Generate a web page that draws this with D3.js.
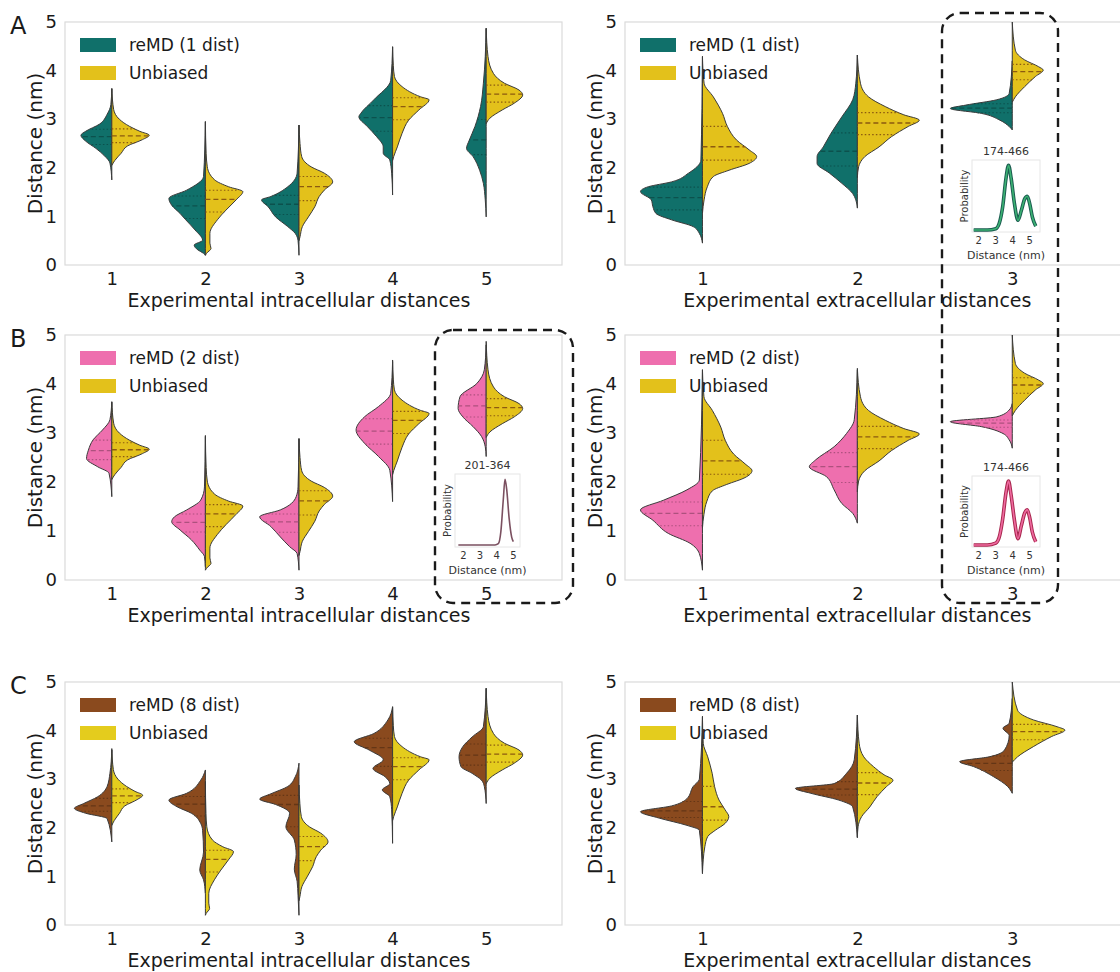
<!DOCTYPE html>
<html>
<head>
<meta charset="utf-8">
<script src="https://cdn.jsdelivr.net/npm/d3@7"></script>
<style>
  body { margin: 0; background: #fff; }
  svg { font-family: "DejaVu Sans", sans-serif; }
</style>
</head>
<body>
<svg id="fig" width="1120" height="972"></svg>
<script>
// ---- data ----
var intraCats = ["1", "2", "3", "4", "5"];
var extraCats = ["1", "2", "3"];
var distTicks = [0, 1, 2, 3, 4, 5];
var insetTicks = [2, 3, 4, 5];

// unbiased density shapes, [distance nm, relative density]
var unbIntra = [
  [[3.63,0],[3.2,0.05],[3.0,0.2],[2.85,0.48],[2.75,0.75],[2.67,1],[2.58,0.82],[2.45,0.42],[2.3,0.25],[2.15,0.08],[2.05,0]],
  [[2.95,0],[2.3,0.02],[2.02,0.05],[1.75,0.25],[1.61,0.62],[1.51,1],[1.34,0.82],[1.13,0.55],[0.93,0.32],[0.65,0.12],[0.45,0.12],[0.34,0.15],[0.24,0.03],[0.2,0]],
  [[2.88,0],[2.5,0.03],[2.23,0.08],[2.02,0.36],[1.89,0.75],[1.71,1],[1.54,0.75],[1.41,0.6],[1.2,0.47],[0.99,0.28],[0.79,0.1],[0.58,0.03],[0.5,0]],
  [[4.49,0],[4.1,0.02],[3.88,0.05],[3.67,0.26],[3.46,0.77],[3.4,1],[3.19,0.72],[2.98,0.44],[2.71,0.26],[2.43,0.13],[2.23,0.03],[2.15,0]],
  [[4.87,0],[4.29,0.05],[3.94,0.2],[3.74,0.5],[3.6,0.9],[3.5,1],[3.33,0.77],[3.19,0.44],[3.02,0.1],[2.91,0]]
];
var unbExtra = [
  [[4.29,0],[3.74,0.03],[3.46,0.2],[3.12,0.37],[2.85,0.46],[2.57,0.63],[2.37,0.86],[2.23,1],[2.09,0.86],[1.95,0.49],[1.82,0.2],[1.61,0.09],[1.34,0.03],[1.06,0]],
  [[4.32,0],[3.74,0.05],[3.46,0.18],[3.26,0.45],[3.09,0.75],[2.98,1],[2.85,0.82],[2.64,0.55],[2.43,0.35],[2.23,0.12],[2.02,0.02],[1.8,0]],
  [[5.0,0],[4.42,0.1],[4.22,0.4],[4.08,0.85],[4.01,1],[3.88,0.75],[3.67,0.4],[3.46,0.1],[3.35,0]]
];
// peak half width of the unbiased halves (category units), rows A, B, C
var unbWidthIntra = [[0.40,0.40,0.36,0.39,0.39],[0.40,0.40,0.36,0.39,0.39],[0.33,0.30,0.31,0.39,0.39]];
var unbWidthExtra = [[0.35,0.40,0.20],[0.32,0.40,0.20],[0.17,0.23,0.34]];

// reMD halves, [distance nm, half width in category units]
var remd1Intra = [
  [[3.63,0],[3.3,0.01],[3.1,0.05],[2.9,0.13],[2.75,0.28],[2.67,0.33],[2.55,0.28],[2.4,0.17],[2.25,0.08],[2.1,0.02],[1.75,0]],
  [[2.95,0],[1.82,0.02],[1.54,0.2],[1.37,0.39],[1.23,0.36],[1.06,0.27],[0.93,0.21],[0.72,0.11],[0.51,0.03],[0.41,0.12],[0.31,0.08],[0.24,0.02],[0.2,0]],
  [[2.88,0],[1.89,0.02],[1.61,0.12],[1.41,0.3],[1.34,0.40],[1.2,0.33],[0.99,0.25],[0.79,0.12],[0.65,0.04],[0.5,0.01],[0.2,0]],
  [[4.49,0],[3.8,0.02],[3.4,0.2],[3.12,0.34],[3.05,0.36],[2.85,0.27],[2.64,0.17],[2.43,0.1],[2.3,0.1],[2.16,0.03],[1.89,0.01],[1.44,0]],
  [[4.87,0],[4.29,0.01],[3.74,0.03],[3.26,0.06],[2.85,0.12],[2.57,0.18],[2.4,0.21],[2.23,0.14],[1.95,0.07],[1.68,0.03],[1.34,0.01],[0.99,0]]
];
var remd1Extra = [
  [[4.29,0],[2.16,0.01],[1.89,0.09],[1.71,0.2],[1.61,0.35],[1.51,0.40],[1.34,0.33],[1.2,0.32],[1.06,0.3],[0.93,0.2],[0.79,0.06],[0.65,0.02],[0.45,0]],
  [[4.32,0],[3.74,0.01],[3.4,0.03],[3.05,0.1],[2.71,0.17],[2.43,0.22],[2.23,0.26],[2.09,0.26],[1.89,0.18],[1.68,0.1],[1.47,0.03],[1.34,0.01],[1.17,0]],
  [[4.2,0],[3.53,0.02],[3.4,0.1],[3.29,0.3],[3.22,0.40],[3.12,0.2],[2.98,0.08],[2.85,0.02],[2.78,0]]
];
var remd2Intra = [
  [[3.64,0],[3.27,0.02],[3.06,0.1],[2.86,0.2],[2.65,0.25],[2.48,0.27],[2.31,0.15],[2.18,0.03],[1.7,0]],
  [[2.93,0],[1.9,0.01],[1.63,0.05],[1.43,0.2],[1.29,0.33],[1.19,0.36],[1.02,0.27],[0.82,0.15],[0.61,0.06],[0.48,0.01],[0.27,0]],
  [[2.89,0],[1.9,0.01],[1.7,0.03],[1.43,0.2],[1.29,0.42],[1.09,0.3],[0.88,0.2],[0.68,0.1],[0.54,0.02],[0.2,0]],
  [[4.46,0],[3.81,0.02],[3.54,0.15],[3.33,0.3],[3.06,0.39],[2.79,0.3],[2.52,0.15],[2.24,0.03],[1.6,0]],
  [[4.8,0],[4.29,0.02],[4.01,0.1],[3.74,0.28],[3.5,0.3],[3.33,0.25],[3.13,0.14],[2.93,0.05],[2.72,0.01],[2.52,0]]
];
var remd2Extra = [
  [[4.29,0],[2.04,0.02],[1.84,0.1],[1.63,0.25],[1.43,0.40],[1.22,0.32],[0.95,0.22],[0.75,0.08],[0.54,0.02],[0.2,0]],
  [[4.29,0],[3.27,0.02],[2.99,0.07],[2.72,0.15],[2.45,0.27],[2.31,0.31],[2.11,0.2],[1.84,0.15],[1.56,0.1],[1.36,0.03],[1.16,0]],
  [[3.6,0],[3.47,0.02],[3.33,0.1],[3.23,0.40],[3.13,0.2],[2.99,0.06],[2.86,0.02],[2.69,0]]
];
var remd8Intra = [
  [[3.6,0],[3.12,0.02],[2.85,0.05],[2.64,0.15],[2.5,0.3],[2.4,0.40],[2.3,0.28],[2.19,0.05],[1.71,0]],
  [[3.19,0],[2.98,0.05],[2.71,0.2],[2.57,0.39],[2.43,0.3],[2.3,0.15],[2.09,0.05],[1.95,0.03],[1.5,0.02],[1.13,0.06],[0.93,0.02],[0.65,0]],
  [[3.33,0],[3.05,0.04],[2.85,0.12],[2.7,0.3],[2.59,0.42],[2.48,0.25],[2.3,0.1],[2.02,0.14],[1.75,0.05],[1.45,0.03],[1.15,0.05],[0.9,0.02],[0.6,0.01],[0.2,0]],
  [[4.49,0],[4.22,0.05],[3.94,0.2],[3.77,0.41],[3.6,0.25],[3.4,0.1],[3.22,0.21],[3.05,0.08],[2.91,0.03],[2.78,0.11],[2.64,0.03],[2.37,0.01],[1.68,0]],
  [[4.87,0],[4.08,0.03],[3.87,0.15],[3.67,0.25],[3.46,0.29],[3.26,0.27],[3.12,0.15],[2.98,0.05],[2.85,0.02],[2.5,0]]
];
var remd8Extra = [
  [[4.29,0],[3.0,0.02],[2.85,0.06],[2.6,0.1],[2.45,0.2],[2.33,0.40],[2.2,0.28],[2.05,0.1],[1.95,0.02],[1.06,0]],
  [[4.32,0],[3.4,0.02],[3.12,0.07],[2.91,0.15],[2.81,0.40],[2.71,0.3],[2.57,0.12],[2.43,0.03],[1.8,0]],
  [[4.66,0],[4.15,0.02],[4.05,0.06],[3.9,0.02],[3.6,0.05],[3.46,0.15],[3.36,0.34],[3.26,0.25],[3.05,0.12],[2.85,0.03],[2.71,0]]
];

// inset distance distributions
var inset174Dist = [1.7, 2.0, 2.5, 3.0, 3.2, 3.4, 3.6, 3.75, 3.9, 4.1, 4.3, 4.5, 4.7, 4.85, 5.0, 5.15, 5.35];
var inset174ProbA = [0, 0, 0, 0.02, 0.1, 0.35, 0.8, 1.0, 0.8, 0.4, 0.15, 0.3, 0.48, 0.52, 0.4, 0.2, 0.06];
var inset174ProbB = [0, 0, 0, 0.03, 0.12, 0.4, 0.82, 1.0, 0.78, 0.38, 0.1, 0.3, 0.5, 0.55, 0.42, 0.2, 0.05];
var inset201Dist = [1.7, 2.0, 3.0, 3.9, 4.1, 4.25, 4.4, 4.5, 4.6, 4.75, 4.9, 5.0];
var inset201Prob = [0, 0, 0, 0, 0.02, 0.2, 0.7, 1.0, 0.85, 0.4, 0.12, 0.05];

// ---- layout ----
var svg = d3.select("#fig");
var textCol = "#1a1a1a";
var spineCol = "#dadada";
var yellowAB = "#e3c11b", yellowC = "#e4cc1d";

var rows = [
  {label: "A", top: 22, bottom: 265, name: "reMD (1 dist)", color: "#10706a", yellow: yellowAB, intra: remd1Intra, extra: remd1Extra},
  {label: "B", top: 335, bottom: 580, name: "reMD (2 dist)", color: "#ee6fae", yellow: yellowAB, intra: remd2Intra, extra: remd2Extra},
  {label: "C", top: 682, bottom: 925, name: "reMD (8 dist)", color: "#8a4a1e", yellow: yellowC, intra: remd8Intra, extra: remd8Extra}
];
var cols = [
  {x0: 65, x1: 562, dom: [-0.5, 4.81], cats: intraCats, title: "Experimental intracellular distances", key: "intra", unb: unbIntra, unbW: unbWidthIntra},
  {x0: 625, x1: 1130, dom: [-0.5, 2.76], cats: extraCats, title: "Experimental extracellular distances", key: "extra", unb: unbExtra, unbW: unbWidthExtra}
];

function interpW(pts, v) {
  // pts sorted ascending by distance
  for (var i = 1; i < pts.length; i++) {
    if (v <= pts[i][0]) {
      var a = pts[i - 1], b = pts[i];
      var t = (v - a[0]) / (b[0] - a[0]);
      return a[1] + t * (b[1] - a[1]);
    }
  }
  return 0;
}

function quartiles(pts) {
  var lo = pts[0][0], hi = pts[pts.length - 1][0];
  var n = 600, step = (hi - lo) / n, cum = [0], tot = 0;
  for (var i = 1; i <= n; i++) {
    tot += interpW(pts, lo + (i - 0.5) * step) * step;
    cum.push(tot);
  }
  return [0.25, 0.5, 0.75].map(function(q) {
    var target = q * tot, j = d3.bisectLeft(cum, target);
    return lo + j * step;
  });
}

function drawHalf(g, xs, ys, ci, shape, scale, side, fill, innerCol) {
  var xc = xs(ci), unit = xs(1) - xs(0);
  var pts = shape.slice().sort(function(a, b) { return b[0] - a[0]; });
  var area = d3.area()
    .curve(d3.curveMonotoneY)
    .y(function(d) { return ys(d[0]); })
    .x0(xc)
    .x1(function(d) { return xc + side * d[1] * scale * unit; });
  g.append("path")
    .attr("d", area(pts))
    .attr("fill", fill)
    .attr("stroke", "#3a3a3a")
    .attr("stroke-width", 1)
    .attr("stroke-linejoin", "round");

  var asc = shape.slice().sort(function(a, b) { return a[0] - b[0]; });
  quartiles(asc).forEach(function(q, k) {
    var w = interpW(asc, q) * scale * unit;
    g.append("line")
      .attr("x1", xc).attr("x2", xc + side * w)
      .attr("y1", ys(q)).attr("y2", ys(q))
      .attr("stroke", innerCol)
      .attr("stroke-width", k == 1 ? 1.3 : 1.1)
      .attr("stroke-dasharray", k == 1 ? "5,3" : "1.5,2.2");
  });
}

rows.forEach(function(row, ri) {
  cols.forEach(function(col, cj) {
    var g = svg.append("g");
    var xs = d3.scaleLinear().domain(col.dom).range([col.x0, col.x1]);
    var ys = d3.scaleLinear().domain([0, 5]).range([row.bottom, row.top]);

    // frame
    g.append("rect")
      .attr("x", col.x0).attr("y", row.top)
      .attr("width", col.x1 - col.x0).attr("height", row.bottom - row.top)
      .attr("fill", "none").attr("stroke", spineCol).attr("stroke-width", 1.2);

    // axes
    var yAxis = d3.axisLeft(ys).tickValues(distTicks).tickFormat(d3.format("d")).tickSize(0).tickPadding(8);
    g.append("g").attr("transform", "translate(" + col.x0 + ",0)").call(yAxis)
      .call(function(a) { a.select(".domain").remove(); })
      .selectAll("text").attr("font-size", 18).attr("fill", textCol).attr("font-family", "DejaVu Sans");
    var xAxis = d3.axisBottom(xs).tickValues(d3.range(col.cats.length))
      .tickFormat(function(i) { return col.cats[i]; }).tickSize(0).tickPadding(7);
    g.append("g").attr("transform", "translate(0," + row.bottom + ")").call(xAxis)
      .call(function(a) { a.select(".domain").remove(); })
      .selectAll("text").attr("font-size", 18).attr("fill", textCol).attr("font-family", "DejaVu Sans");

    g.append("text")
      .attr("x", (xs(0) + xs(col.cats.length - 1)) / 2).attr("y", row.bottom + 42)
      .attr("text-anchor", "middle").attr("font-size", 19).attr("fill", textCol)
      .text(col.title);
    g.append("text")
      .attr("transform", "translate(" + (col.x0 - 23) + "," + ((row.top + row.bottom) / 2) + ") rotate(-90)")
      .attr("text-anchor", "middle").attr("font-size", 20).attr("fill", textCol)
      .text("Distance (nm)");

    // violins
    var remd = row[col.key];
    var innerRemd = d3.color(row.color).darker(0.9).formatHex();
    col.cats.forEach(function(c, i) {
      drawHalf(g, xs, ys, i, remd[i], 1, -1, row.color, innerRemd);
      drawHalf(g, xs, ys, i, col.unb[i], col.unbW[ri][i], 1, row.yellow, "#8c5a10");
    });

    // legend
    var lg = g.append("g").attr("transform", "translate(" + (col.x0 + 15) + "," + (row.top + 16) + ")");
    [[row.name, row.color], ["Unbiased", row.yellow]].forEach(function(e, k) {
      lg.append("rect").attr("x", 0).attr("y", k * 28).attr("width", 36).attr("height", 14)
        .attr("fill", e[1]);
      lg.append("text").attr("x", 49).attr("y", k * 28 + 13)
        .attr("font-size", 17).attr("fill", textCol).text(e[0]);
    });

    if (cj == 0) {
      svg.append("text").attr("x", 10).attr("y", row.top + 12)
        .attr("font-size", 24).attr("fill", textCol).text(row.label);
    }
  });
});

// ---- insets ----
function drawInset(o) {
  var g = svg.append("g");
  var xs = d3.scaleLinear().domain(o.domX).range([o.x0, o.x1]);
  var ys = d3.scaleLinear().domain([0, 1.08]).range([o.y1 - 2, o.y0]);
  g.append("rect").attr("x", o.x0).attr("y", o.y0)
    .attr("width", o.x1 - o.x0).attr("height", o.y1 - o.y0)
    .attr("fill", "#fff").attr("fill-opacity", 0.6)
    .attr("stroke", "#e6e6e6").attr("stroke-width", 1);
  var line = d3.line().curve(d3.curveMonotoneX)
    .x(function(d) { return xs(d[0]); }).y(function(d) { return ys(d[1]); });
  var pts = o.dist.map(function(d, i) { return [d, o.prob[i]]; });
  o.strokes.forEach(function(s) {
    g.append("path").attr("d", line(pts)).attr("fill", "none")
      .attr("stroke", s[0]).attr("stroke-width", s[1]).attr("stroke-linejoin", "round");
  });
  g.selectAll(".it").data(insetTicks).enter().append("text")
    .attr("x", function(d) { return xs(d); }).attr("y", o.y1 + 12)
    .attr("text-anchor", "middle").attr("font-size", 10).attr("fill", "#333").text(function(d) { return d; });
  g.append("text").attr("x", (o.x0 + o.x1) / 2).attr("y", o.y1 + 27)
    .attr("text-anchor", "middle").attr("font-size", 11).attr("fill", "#333").text("Distance (nm)");
  g.append("text").attr("x", (o.x0 + o.x1) / 2).attr("y", o.y0 - 5)
    .attr("text-anchor", "middle").attr("font-size", 11).attr("fill", "#333").text(o.title);
  g.append("text")
    .attr("transform", "translate(" + (o.x0 - 4) + "," + ((o.y0 + o.y1) / 2) + ") rotate(-90)")
    .attr("text-anchor", "middle").attr("font-size", 10).attr("fill", "#333").text("Probability");
}

drawInset({x0: 972, x1: 1040, y0: 160, y1: 232, domX: [1.6, 5.6], title: "174-466",
  dist: inset174Dist, prob: inset174ProbA, strokes: [["#1b5c50", 3.6], ["#3bb273", 1.6]]});
drawInset({x0: 972, x1: 1040, y0: 476, y1: 547, domX: [1.6, 5.6], title: "174-466",
  dist: inset174Dist, prob: inset174ProbB, strokes: [["#a8284f", 3.6], ["#f06aa0", 1.6]]});
drawInset({x0: 455, x1: 520, y0: 474, y1: 547, domX: [1.5, 5.4], title: "201-364",
  dist: inset201Dist, prob: inset201Prob, strokes: [["#7b5060", 1.6]]});

// ---- dashed highlight boxes ----
[[942, 13, 1058, 603], [435, 330, 573, 603]].forEach(function(b) {
  svg.append("rect").attr("x", b[0]).attr("y", b[1])
    .attr("width", b[2] - b[0]).attr("height", b[3] - b[1])
    .attr("rx", 18).attr("ry", 18)
    .attr("fill", "none").attr("stroke", "#1a1a1a")
    .attr("stroke-width", 2.4).attr("stroke-dasharray", "9,6");
});
</script>
</body>
</html>
